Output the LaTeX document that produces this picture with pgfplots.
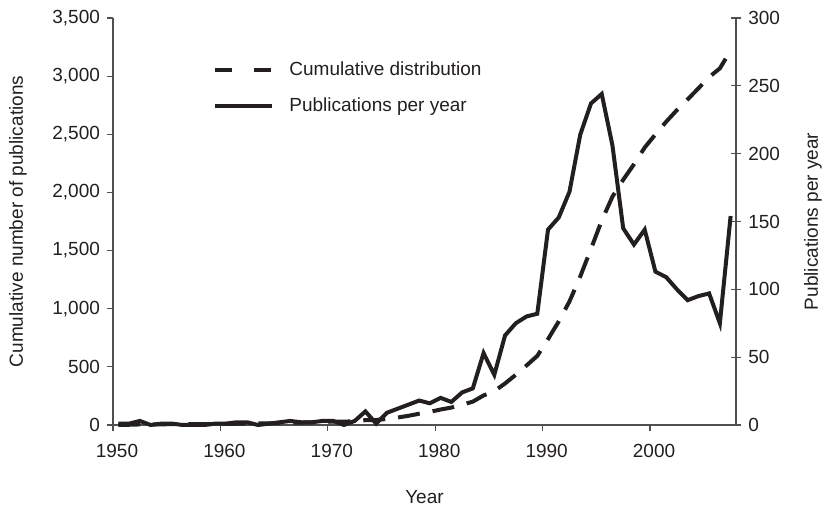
\documentclass[border=0pt]{standalone}
\usepackage{fontspec}
\setmainfont{Liberation Sans}
\usepackage{pgfplots}
\pgfplotsset{compat=1.18}
\usepackage{pgfplotstable}
\definecolor{axisgray}{HTML}{505050}
\definecolor{ink}{HTML}{231F20}

\pgfplotstableread{
year perYear cumulative
1950 1 1
1951 1 2
1952 3 5
1953 0 5
1954 1 6
1955 1 7
1956 0 7
1957 0 7
1958 0 7
1959 1 8
1960 1 9
1961 2 11
1962 2 13
1963 0 13
1964 1 14
1965 2 16
1966 3 19
1967 2 21
1968 2 23
1969 3 26
1970 3 29
1971 0 29
1972 3 32
1973 10 42
1974 1 43
1975 9 52
1976 12 64
1977 15 79
1978 18 97
1979 16 113
1980 20 133
1981 17 150
1982 24 174
1983 27 201
1984 53 254
1985 37 291
1986 66 357
1987 75 432
1988 80 512
1989 82 594
1990 144 738
1991 153 891
1992 172 1063
1993 214 1277
1994 237 1514
1995 244 1758
1996 206 1964
1997 145 2109
1998 133 2242
1999 144 2386
2000 113 2499
2001 109 2608
2002 100 2708
2003 92 2800
2004 95 2895
2005 97 2992
2006 75 3067
2007 154 3221
}\datatable

\begin{document}
\begin{tikzpicture}
\useasboundingbox (-56.5pt,-42pt) rectangle (357pt,212.5pt);
\pgfplotsset{
  every axis/.append style={
    scale only axis, width=311.5pt, height=203.5pt,
    xmin=1949.5, xmax=2007.5,
    font=\fontsize{9.5}{11}\selectfont,
    /pgf/number format/assume math mode=true,
    /pgf/number format/1000 sep={,},
    axis line style={axisgray, line width=0.6pt},
    every tick/.style={axisgray, line width=0.6pt},
    tick label style={font=\fontsize{9.5}{11}\selectfont, text=ink},
    label style={font=\fontsize{9.5}{11}\selectfont, text=ink},
    clip=false,
  }
}
\begin{axis}[
  axis x line*=bottom, axis y line*=left,
  ymin=0, ymax=3500, ytick={0,500,...,3500},
  xtick={1949.5,1959.5,1969.5,1979.5,1989.5,1999.5},
  xticklabels={1950,1960,1970,1980,1990,2000},
  xticklabel style={xshift=2pt, yshift=-3pt},
  tick align=outside, major tick length=3pt,
  xlabel={Year},
  xlabel style={at={(axis description cs:0.5,-0.177)}, anchor=center},
  ylabel={Cumulative number of publications},
  ylabel style={at={(axis description cs:-0.1525,0.5)}, anchor=center, rotate=0},
]
\addplot[ink, line width=2pt, dash pattern=on 11pt off 6.5pt] table[x=year,y=cumulative]{\datatable};
\end{axis}
\begin{axis}[
  axis x line=none, axis y line*=right,
  ymin=0, ymax=300, ytick={0,50,...,300},
  tick align=center, major tick length=5.3pt,
  ylabel={Publications per year},
  ylabel style={at={(axis description cs:1.1236,0.5)}, anchor=center},
  legend cell align=left,
  legend image code/.code={\draw[#1] (0pt,0pt) -- (28.5pt,0pt);},
  legend style={draw=none, fill=none, inner sep=0pt,
    at={(0.1605,0.895)}, anchor=north west,
    font=\fontsize{9.5}{11}\selectfont, text=ink,
    row sep=9pt,
    nodes={inner sep=0pt, text height=7pt, text depth=2pt},
    /tikz/every odd column/.style={column sep=7.5pt}},
]
\addlegendimage{ink, line width=2pt, dash pattern=on 8.5pt off 11pt}
\addlegendentry{Cumulative distribution}
\addplot[ink, line width=2pt] table[x=year,y=perYear]{\datatable};
\addlegendentry{Publications per year}
\end{axis}
\end{tikzpicture}
\end{document}
